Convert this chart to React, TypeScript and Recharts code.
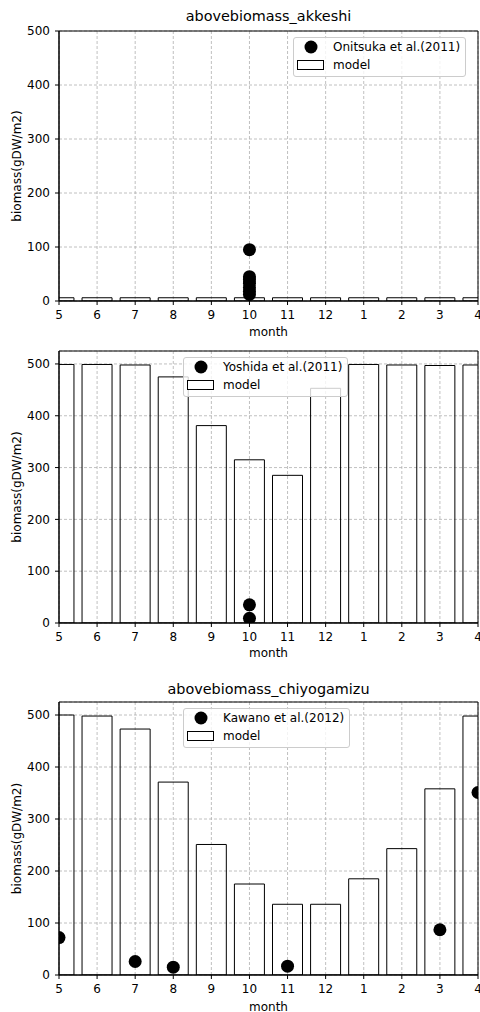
import React from 'react';
import { ComposedChart, Bar, Scatter, XAxis, YAxis, CartesianGrid, ReferenceArea, Legend } from 'recharts';

const MONTHS = ['5', '6', '7', '8', '9', '10', '11', '12', '1', '2', '3', '4'];

const AKKESHI_MODEL = [6, 6, 6, 6, 6, 6, 6, 6, 6, 6, 6, 6];
const AKKESHI_OBS_MONTH = ['10', '10', '10', '10', '10', '10', '10'];
const AKKESHI_OBS = [95, 45, 40, 33, 25, 18, 12];

const SITE2_MODEL = [499, 499, 498, 475, 381, 315, 285, 453, 499, 498, 497, 498];
const SITE2_OBS_MONTH = ['10', '10'];
const SITE2_OBS = [35, 9];

const CHIYO_MODEL = [500, 498, 473, 371, 251, 175, 136, 136, 185, 243, 358, 498];
const CHIYO_OBS_MONTH = ['5', '7', '8', '11', '3', '4'];
const CHIYO_OBS = [72, 26, 15, 17, 87, 351];

const Y_TICKS = [0, 100, 200, 300, 400, 500];
const X_TICKS = MONTHS.map((_, i) => i);

const FONT = '"DejaVu Sans", sans-serif';

function LegendBox({ label }: { label: string }) {
  return (
    <div
      style={{
        display: 'inline-block',
        border: '1px solid #cccccc',
        borderRadius: 3,
        background: 'rgba(255,255,255,0.8)',
        padding: '0 5px 2px 3px',
        fontFamily: FONT,
        fontSize: 12,
        color: '#000',
        whiteSpace: 'nowrap',
      }}
    >
      <div style={{ display: 'flex', alignItems: 'center', height: 18 }}>
        <svg width={27} height={18} style={{ marginRight: 9 }}>
          <circle cx={14} cy={9} r={6.5} fill="#000" />
        </svg>
        <span>{label}</span>
      </div>
      <div style={{ display: 'flex', alignItems: 'center', height: 18 }}>
        <svg width={27} height={18} style={{ marginRight: 9 }}>
          <rect x={0.5} y={4.5} width={26} height={9} fill="#fff" stroke="#000" />
        </svg>
        <span>model</span>
      </div>
    </div>
  );
}

interface PanelProps {
  title?: string;
  model: number[];
  obsMonth: string[];
  obs: number[];
  obsLabel: string;
  yMax: number;
  top: number;
  height: number;
  marginTop: number;
  xAxisHeight: number;
  monthOffset: number;
  legendLeft: number;
  legendTop: number;
  titleTop?: number;
}

function Panel(p: PanelProps) {
  const data = MONTHS.map((m, i) => ({ x: i, model: p.model[i] }));
  const points = p.obs.map((v, i) => ({ x: MONTHS.indexOf(p.obsMonth[i]), obs: v }));

  return (
    <div style={{ position: 'absolute', left: 0, top: p.top, width: 480, height: p.height }}>
      {p.title && (
        <div
          style={{
            position: 'absolute',
            left: 59,
            width: 419,
            top: p.titleTop,
            textAlign: 'center',
            fontFamily: FONT,
            fontSize: 14.4,
            lineHeight: '17px',
            color: '#000',
          }}
        >
          {p.title}
        </div>
      )}
      <ComposedChart
        width={480}
        height={p.height}
        data={data}
        margin={{ top: p.marginTop, right: 2, bottom: 0, left: 0 }}
        style={{ fontFamily: FONT }}
      >
        <CartesianGrid stroke="#b0b0b0" strokeDasharray="3 2" strokeWidth={0.8} />
        <XAxis
          dataKey="x"
          type="number"
          domain={[0, 11]}
          ticks={X_TICKS}
          allowDataOverflow
          interval={0}
          height={p.xAxisHeight}
          tickFormatter={(v: number) => MONTHS[v]}
          tick={{ fill: '#000', fontSize: 12 }}
          tickSize={4}
          tickMargin={5.5}
          stroke="#000"
          label={{ value: 'month', position: 'insideBottom', offset: p.monthOffset, fill: '#000', fontSize: 12 }}
        />
        <YAxis
          type="number"
          domain={[0, p.yMax]}
          ticks={Y_TICKS}
          allowDataOverflow
          width={59}
          tick={{ fill: '#000', fontSize: 12 }}
          tickSize={4}
          tickMargin={5}
          stroke="#000"
          label={{
            value: 'biomass(gDW/m2)',
            angle: -90,
            position: 'insideLeft',
            offset: 17,
            fill: '#000',
            fontSize: 12,
            style: { textAnchor: 'middle' },
          }}
        />
        <Bar dataKey="model" barSize={30} fill="none" stroke="#000" strokeWidth={1} isAnimationActive={false} />
        <Scatter
          data={points}
          dataKey="obs"
          fill="#000"
          isAnimationActive={false}
          shape={(s: any) => <circle cx={s.cx} cy={s.cy} r={6.5} fill="#000" />}
        />
        <ReferenceArea x1={0} x2={11} y1={0} y2={p.yMax} fill="none" stroke="#000" strokeWidth={1} />
        <Legend
          layout="vertical"
          align="center"
          verticalAlign="middle"
          wrapperStyle={{ left: p.legendLeft, top: p.legendTop, width: 220, height: 40 }}
          content={() => <LegendBox label={p.obsLabel} />}
        />
      </ComposedChart>
    </div>
  );
}

export default function App() {
  return (
    <div style={{ position: 'absolute', left: 0, top: 0, width: 480, height: 1012, background: '#fff', overflow: 'hidden' }}>
      <Panel
        title="abovebiomass_akkeshi"
        titleTop={8}
        model={AKKESHI_MODEL}
        obsMonth={AKKESHI_OBS_MONTH}
        obs={AKKESHI_OBS}
        obsLabel="Onitsuka et al.(2011)"
        yMax={500}
        top={0}
        height={340}
        marginTop={31}
        xAxisHeight={39}
        monthOffset={4}
        legendLeft={293}
        legendTop={37}
      />
      <Panel
        model={SITE2_MODEL}
        obsMonth={SITE2_OBS_MONTH}
        obs={SITE2_OBS}
        obsLabel="Yoshida et al.(2011)"
        yMax={525}
        top={340}
        height={320}
        marginTop={11}
        xAxisHeight={37}
        monthOffset={3}
        legendLeft={183}
        legendTop={17}
      />
      <Panel
        title="abovebiomass_chiyogamizu"
        titleTop={11}
        model={CHIYO_MODEL}
        obsMonth={CHIYO_OBS_MONTH}
        obs={CHIYO_OBS}
        obsLabel="Kawano et al.(2012)"
        yMax={525}
        top={670}
        height={342}
        marginTop={32}
        xAxisHeight={37}
        monthOffset={1.5}
        legendLeft={183}
        legendTop={38}
      />
    </div>
  );
}
